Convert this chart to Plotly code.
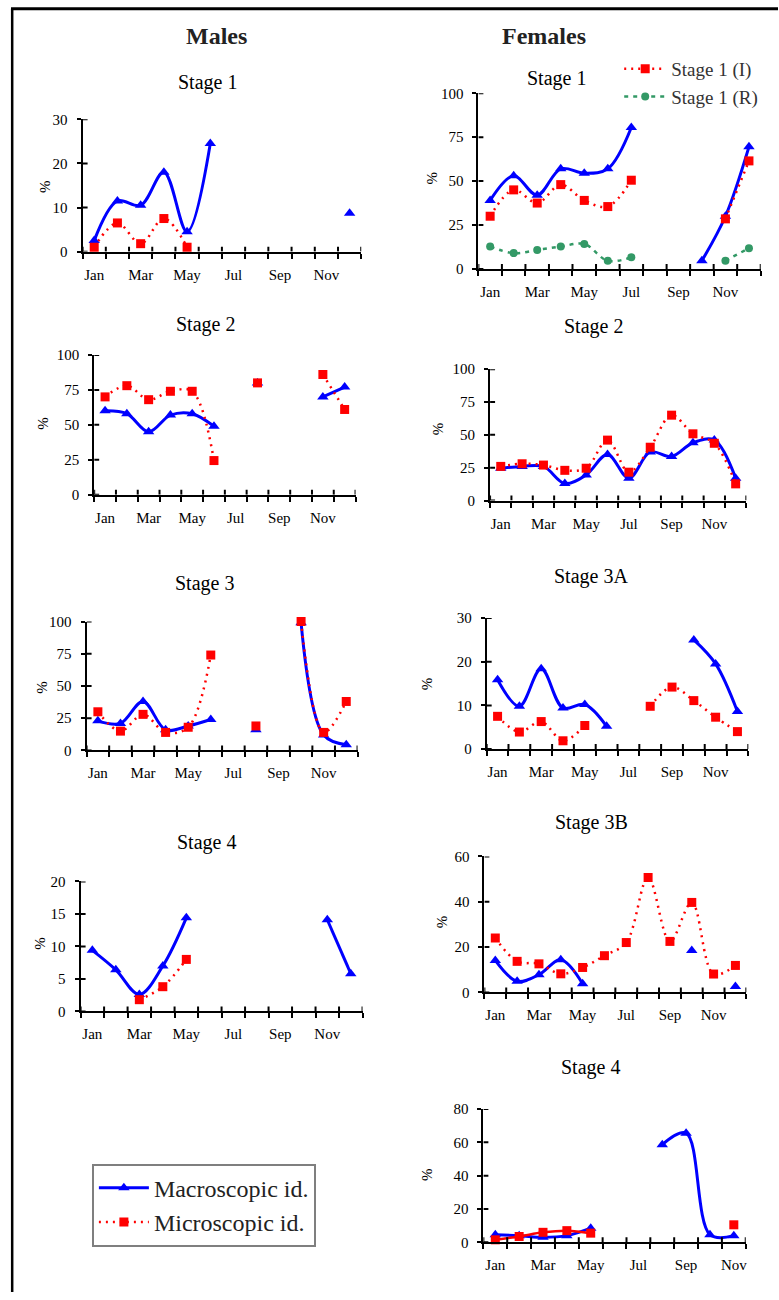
import plotly.graph_objects as go

# ---------------------------------------------------------------- data
MONTHS = ["Jan", "Feb", "Mar", "Apr", "May", "Jun",
          "Jul", "Aug", "Sep", "Oct", "Nov", "Dec"]
MONTH_LABELS = ["Jan", "Mar", "May", "Jul", "Sep", "Nov"]

# Males (% of individuals per month); None = no sample that month
males_s1_macro = [2.5, 11.5, 10.5, 18, 4.5, 24.5, None, None, None, None, None, 8.7]
males_s1_micro = [1, 6.5, 1.8, 7.5, 1, None, None, None, None, None, None, None]

males_s2_macro = [60, 58, 45, 57, 58, 49, None, 80, None, None, 70, 77]
males_s2_micro = [70, 78, 68, 74, 74, 24.5, None, 80, None, None, 86, 61]

males_s3_macro = [23, 21, 38, 16, 19, 24, None, 16, None, 99, 12, 4.5]
males_s3_micro = [30, 15, 28, 14, 18, 74, None, 19, None, 100, 14, 38]

males_s4_macro = [9.4, 6.4, 2.6, 7.0, 14.4, None, None, None, None, None, 14.1, 5.8]
males_s4_micro = [None, None, 1.8, 3.8, 8, None, None, None, None, None, None, None]

# Females
females_s1_macro = [39, 53, 42, 57, 54.5, 57, 80.5, None, None, 4.7, 30, 69.5]
females_s1_stage_i = [30, 45, 37.5, 48, 39, 35.5, 50.5, None, None, None, 28.5, 61.5]
females_s1_stage_r = [12.7, 9, 10.8, 12.7, 14.2, 4.6, 6.6, None, None, None, 4.7, 11.8]

females_s2_macro = [24.6, 26, 26, 13, 19.5, 35, 17, 37, 33.5, 44, 46, 17]
females_s2_micro = [26, 28, 27, 23, 24.6, 46, 21.6, 40.6, 65, 50.8, 43.6, 12.7]

females_s3a_macro = [15.9, 9.8, 18.4, 9.4, 10.2, 5.2, None, None, None, 25, 19.5, 8.6]
females_s3a_micro = [7.5, 3.9, 6.3, 1.9, 5.4, None, None, 9.8, 14.2, 11.1, 7.3, 4.0]

females_s3b_macro = [14.1, 4.9, 7.8, 14.4, 3.8, None, None, None, None, 18.5, None, 2.6]
females_s3b_micro = [24, 13.7, 12.6, 8.2, 11, 16.2, 22, 50.7, 22.5, 39.7, 8.1, 11.9]

# Stage 4 females: axis runs Jan..Nov
females_s4_macro = [4.5, 4, 3, 4, 8.5, None, None, 58.6, 65.5, 4.6, 4]
females_s4_micro = [1.5, 3.5, 6, 7, 5.5, None, None, None, None, None, 10.5]

# ---------------------------------------------------------------- styling
W, H = 779, 1300
FONT = "Liberation Serif"
BLUE, RED, GREEN = "#0000ff", "#ff0000", "#339966"


def fx(px):
    """horizontal pixel -> paper fraction"""
    return px / W


def fy(py):
    """vertical pixel (from top) -> paper fraction, with the page's vertical inset"""
    return 1 - ((py - 8) / 0.988) / H


# panel boxes in pixels: (left, right, top, bottom), title centre, "%" centre
panels = [
    dict(box=(82.7, 361.7, 119.3, 251.7), ymax=30, yt=[0, 10, 20, 30], title="Stage 1",
         tpos=(208, 83), ppos=(45, 186), macro=males_s1_macro, micro=males_s1_micro),
    dict(box=(94.3, 356.0, 355.0, 495.0), ymax=100, yt=[0, 25, 50, 75, 100], title="Stage 2",
         tpos=(206, 325), ppos=(43, 423), macro=males_s2_macro, micro=males_s2_micro),
    dict(box=(86.7, 358.0, 621.7, 750.7), ymax=100, yt=[0, 25, 50, 75, 100], title="Stage 3",
         tpos=(205, 584), ppos=(42, 687), macro=males_s3_macro, micro=males_s3_micro),
    dict(box=(80.7, 363.0, 881.7, 1011.7), ymax=20, yt=[0, 5, 10, 15, 20], title="Stage 4",
         tpos=(207, 843), ppos=(40, 943), macro=males_s4_macro, micro=males_s4_micro),
    dict(box=(479.0, 761.7, 93.3, 269.0), ymax=100, yt=[0, 25, 50, 75, 100], title="Stage 1",
         tpos=(557, 79), ppos=(433, 178), macro=females_s1_macro, micro=females_s1_stage_i,
         extra=females_s1_stage_r),
    dict(box=(490.7, 747.3, 369.3, 500.7), ymax=100, yt=[0, 25, 50, 75, 100], title="Stage 2",
         tpos=(594, 327), ppos=(438, 429), macro=females_s2_macro, micro=females_s2_micro),
    dict(box=(487.3, 749.3, 618.3, 749.3), ymax=30, yt=[0, 10, 20, 30], title="Stage 3A",
         tpos=(592, 577), ppos=(427, 684), macro=females_s3a_macro, micro=females_s3a_micro),
    dict(box=(485.0, 747.3, 856.7, 992.7), ymax=60, yt=[0, 20, 40, 60], title="Stage 3B",
         tpos=(592, 823), ppos=(442, 922), macro=females_s3b_macro, micro=females_s3b_micro),
    dict(box=(484.0, 746.7, 1109.3, 1242.7), ymax=80, yt=[0, 20, 40, 60, 80], title="Stage 4",
         tpos=(591, 1068), ppos=(427, 1175), macro=females_s4_macro, micro=females_s4_micro,
         micro_dash="solid"),
]

fig = go.Figure()
shapes, annotations = [], []
axis_font = dict(family=FONT, size=15, color="black")

for i, p in enumerate(panels, start=1):
    sfx = "" if i == 1 else str(i)
    xref, yref = f"x{sfx}", f"y{sfx}"
    n = len(p["macro"])
    months = list(range(1, n + 1))
    left, right, top, bottom = p["box"]

    fig.update_layout({
        f"xaxis{sfx}": dict(
            domain=[fx(left), fx(right)], range=[0.5, n + 0.5], anchor=yref,
            tickmode="array",
            tickvals=[m for m in months if MONTHS[m - 1] in MONTH_LABELS],
            ticktext=[MONTHS[m - 1] for m in months if MONTHS[m - 1] in MONTH_LABELS],
            ticks="", ticklabelstandoff=8, tickfont=axis_font,
            showline=True, linecolor="black", linewidth=2,
            showgrid=False, zeroline=False, fixedrange=True,
            minor=dict(tickmode="array", tickvals=[k + 0.5 for k in range(n + 1)],
                       ticks="outside", ticklen=5, tickwidth=2, tickcolor="black",
                       showgrid=False),
        ),
        f"yaxis{sfx}": dict(
            domain=[fy(bottom), fy(top)], range=[0, p["ymax"]], anchor=xref,
            tickmode="array", tickvals=p["yt"], ticks="outside", ticklen=4,
            tickwidth=2, tickcolor="black", ticklabelstandoff=6, tickfont=axis_font,
            showline=True, linecolor="black", linewidth=2,
            showgrid=False, zeroline=False, fixedrange=True,
        ),
    })

    # inner halves of the crossing tick marks
    for k in range(n + 1):
        shapes.append(dict(type="line", xref=xref, yref=yref, x0=k + 0.5, x1=k + 0.5,
                           ysizemode="pixel", yanchor=0, y0=0, y1=5,
                           line=dict(color="black", width=2)))
    for t in p["yt"]:
        shapes.append(dict(type="line", xref=xref, yref=yref, y0=t, y1=t,
                           xsizemode="pixel", xanchor=0.5, x0=0, x1=5,
                           line=dict(color="black", width=2)))

    first = i == 1
    fig.add_trace(go.Scatter(
        x=months, y=p["macro"], xaxis=xref, yaxis=yref, mode="lines+markers",
        name="Macroscopic id.", legend="legend", showlegend=first,
        line=dict(color=BLUE, width=3, shape="spline", smoothing=1),
        marker=dict(symbol="triangle-up", size=10, color=BLUE),
        connectgaps=False, cliponaxis=False))

    is_f1 = "extra" in p
    fig.add_trace(go.Scatter(
        x=months, y=p["micro"], xaxis=xref, yaxis=yref, mode="lines+markers",
        name="Stage 1 (I)" if is_f1 else "Microscopic id.",
        legend="legend2" if is_f1 else "legend", showlegend=first or is_f1,
        line=dict(color=RED, width=2.5, shape="spline", smoothing=1,
                  dash=p.get("micro_dash", "2px,5px")),
        marker=dict(symbol="square", size=9, color=RED),
        connectgaps=False, cliponaxis=False))

    if is_f1:
        fig.add_trace(go.Scatter(
            x=months, y=p["extra"], xaxis=xref, yaxis=yref, mode="lines+markers",
            name="Stage 1 (R)", legend="legend2", showlegend=True,
            line=dict(color=GREEN, width=2.5, shape="spline", smoothing=1, dash="4px,5px"),
            marker=dict(symbol="circle", size=8, color=GREEN),
            connectgaps=False, cliponaxis=False))

    annotations.append(dict(text=p["title"], xref="paper", yref="paper",
                            x=fx(p["tpos"][0]), y=fy(p["tpos"][1]),
                            xanchor="center", yanchor="middle", showarrow=False,
                            font=dict(family=FONT, size=20, color="black")))
    annotations.append(dict(text="%", xref="paper", yref="paper",
                            x=fx(p["ppos"][0]), y=fy(p["ppos"][1]),
                            xanchor="center", yanchor="middle", showarrow=False,
                            textangle=-90, font=dict(family=FONT, size=15, color="black")))

for label, cx in (("Males", 217), ("Females", 545)):
    annotations.append(dict(text=f"<b>{label}</b>", xref="paper", yref="paper",
                            x=fx(cx), y=fy(36), xanchor="center", yanchor="middle",
                            showarrow=False, font=dict(family=FONT, size=24, color="#222")))

# page frame (top and left rules)
shapes.append(dict(type="line", xref="paper", yref="paper", x0=fx(11), x1=1,
                   y0=fy(8.8), y1=fy(8.8), line=dict(color="black", width=3)))
shapes.append(dict(type="line", xref="paper", yref="paper", x0=fx(12.2), x1=fx(12.2),
                   y0=0, y1=fy(8.8), line=dict(color="black", width=2.5)))

fig.update_layout(
    width=W, height=H, margin=dict(l=0, r=0, t=0, b=0),
    paper_bgcolor="white", plot_bgcolor="white",
    font=dict(family=FONT, color="black"),
    shapes=shapes, annotations=annotations,
    legend=dict(x=fx(92), y=fy(1164), xanchor="left", yanchor="top",
                bgcolor="white", bordercolor="#7f7f7f", borderwidth=2,
                font=dict(family=FONT, size=24, color="#222"), tracegroupgap=0,
                itemwidth=50),
    legend2=dict(x=fx(620), y=fy(50), xanchor="left", yanchor="top",
                 bgcolor="rgba(0,0,0,0)", font=dict(family=FONT, size=19, color="#333"),
                 tracegroupgap=0, itemwidth=42),
)

fig.write_html("out.html")
